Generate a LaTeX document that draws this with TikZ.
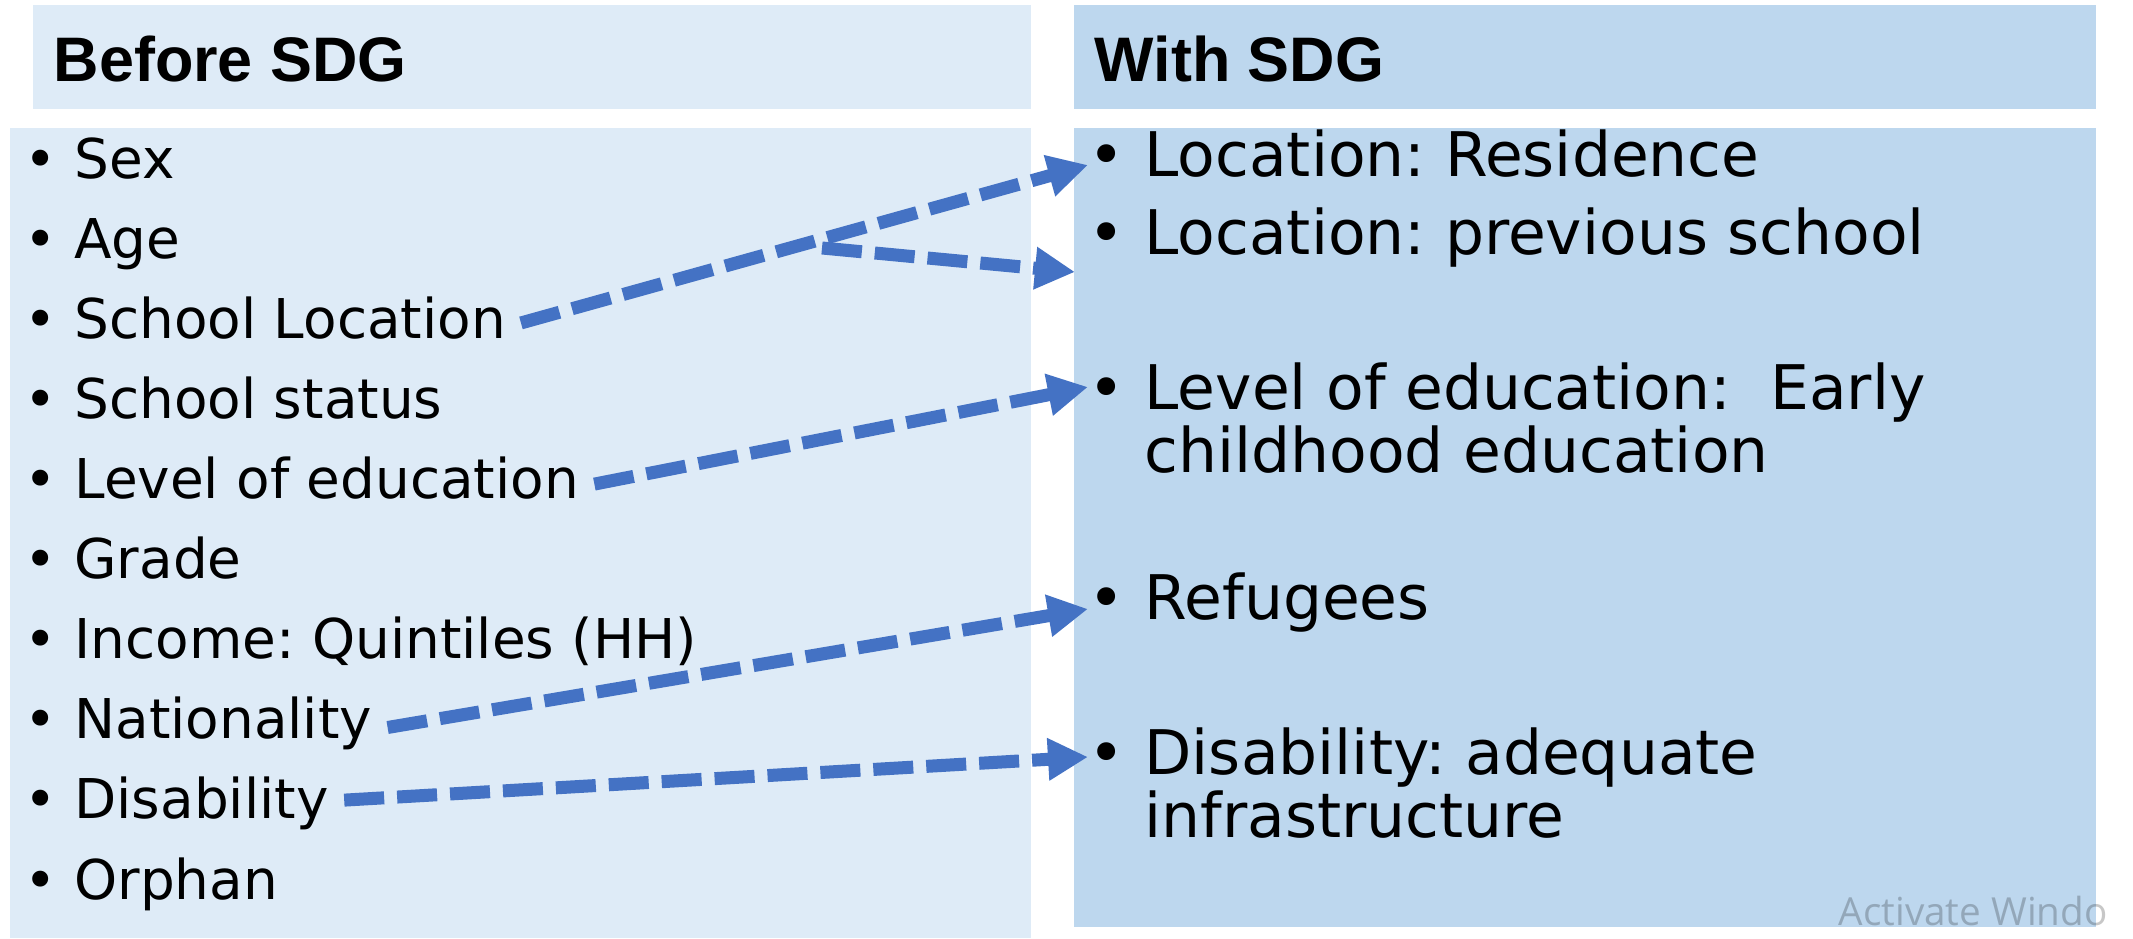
\documentclass[tikz,border=0pt]{standalone}
\usepackage{fontspec}
\setmainfont{DejaVu Sans}
\newfontfamily\headfont{Liberation Sans}
\newfontfamily\markfont{Open Sans}
\usetikzlibrary{arrows.meta}
\frenchspacing
\definecolor{beforeblue}{HTML}{DEEBF7}
\definecolor{withblue}{HTML}{BDD7EE}
\definecolor{linkblue}{HTML}{4472C4}
\newcommand{\twolines}[2]{\parbox[t]{7.9cm}{\lineskiplimit=-1cm #1\\#2}}
\tikzset{
  boxtitle/.style={anchor=base west, inner sep=0pt, font=\headfont\bfseries\fontsize{17.9}{20}\selectfont},
  oldvar/.style={anchor=base west, inner sep=0pt, font=\fontsize{15.6}{18}\selectfont},
  newvar/.style={anchor=base west, inner sep=0pt, font=\fontsize{17.5}{17.8}\selectfont},
  link/.style={draw=linkblue, line width=0.13cm, dash pattern=on 0.40cm off 0.13cm,
    shorten <=0.15cm, -{Triangle[length=0.4cm,width=0.4cm]}}
}
\begin{document}
\begin{tikzpicture}
\path [use as bounding box, fill=white] (0,0) rectangle (21.33,9.38);
\path [fill=beforeblue] (0.33,9.33) rectangle (10.31,8.29); % title bars
\path [fill=withblue] (10.74,9.33) rectangle (20.96,8.29);
\path [fill=beforeblue] (0.10,8.10) rectangle (10.31,0);
\path [fill=withblue] (10.74,8.10) rectangle (20.96,0.11);
\node [boxtitle] (before) at (0.53,8.56) {Before SDG};
\node [boxtitle] (with) at (10.94,8.56) {With SDG};
% before SDG
\node [oldvar] (sex) at (0.24,7.59) {\textbullet\ Sex};
\node [oldvar] (age) at (0.24,6.79) {\textbullet\ Age};
\node [oldvar] (loc) at (0.24,5.99) {\textbullet\ School Location};
\node [oldvar] (stat) at (0.24,5.19) {\textbullet\ School status};
\node [oldvar] (lev) at (0.24,4.39) {\textbullet\ Level of education};
\node [oldvar] (grade) at (0.24,3.59) {\textbullet\ Grade};
\node [oldvar] (inc) at (0.24,2.79) {\textbullet\ Income: Quintiles (HH)};
\node [oldvar] (nat) at (0.24,1.99) {\textbullet\ Nationality};
\node [oldvar] (dis) at (0.24,1.19) {\textbullet\ Disability};
\node [oldvar] (orph) at (0.24,0.39) {\textbullet\ Orphan};
% with SDG
\node [newvar] (res) at (10.88,7.61) {\textbullet\ Location: Residence};
\node [newvar] (prev) at (10.88,6.83) {\textbullet\ Location: previous school};
\node [newvar] (ece) at (10.88,5.28) {\textbullet\ \twolines{Level of education:\ \ Early}{childhood education}};
\node [newvar] (ref) at (10.88,3.18) {\textbullet\ Refugees};
\node [newvar] (infra) at (10.88,1.63) {\textbullet\ \twolines{Disability: adequate}{infrastructure}};
% links
\coordinate (fork) at (8.22,6.90);
\draw [link] ([yshift=1.2mm]loc.base east) -- ([yshift=1.2mm]res.base west);
\draw [link, shorten <=0pt] (fork) -- ([xshift=-1.3mm,yshift=-1.7mm]prev.base west);
\draw [link] ([yshift=1.2mm]lev.base east) -- ([yshift=2.3mm]ece.base west);
\draw [link] ([yshift=0.9mm]nat.base east) -- ([yshift=1.1mm]ref.base west);
\draw [link] ([yshift=1.8mm]dis.base east) -- ([yshift=1.8mm]infra.base west);
\begin{scope}
\clip (0,0) rectangle (21.33,9.38);
\node [anchor=base west, inner sep=0pt, font=\markfont\fontsize{11}{13}\selectfont, text opacity=0.22] (mark) at (18.38,0.13) {Activate Windo};
\end{scope}
\end{tikzpicture}
\end{document}
